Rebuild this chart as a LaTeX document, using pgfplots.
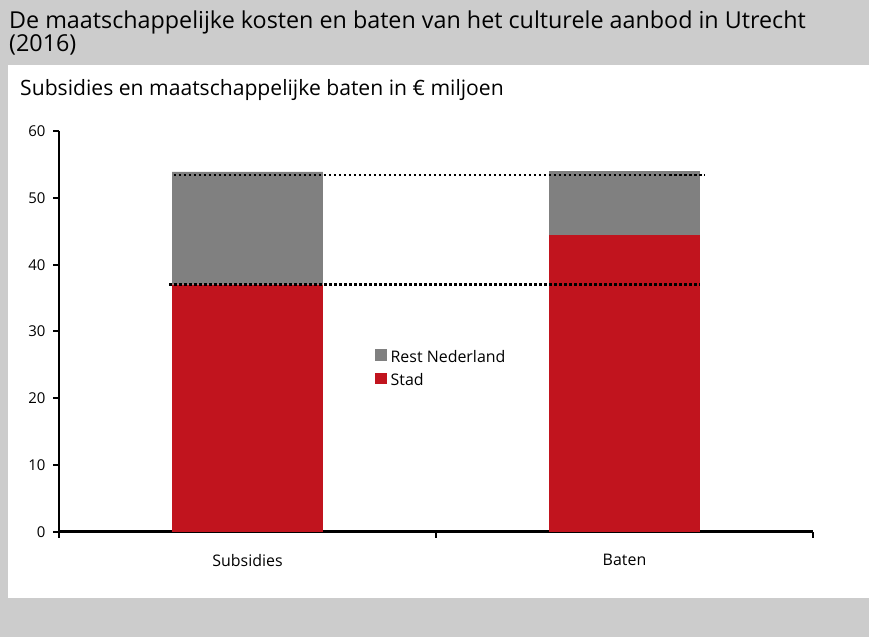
\documentclass[border=0pt]{standalone}
\usepackage{pgfplots}
\pgfplotsset{compat=1.18}
\usepackage{fontspec}
\setmainfont{Open Sans}

\definecolor{stad}{HTML}{C1141E}
\definecolor{rest}{HTML}{808080}
\definecolor{band}{HTML}{CCCCCC}

% Stad / Rest Nederland, in euro miljoen
\pgfplotstableread{
x stad rest
0 37.0 16.9
1 44.4 9.6
}\bardata

\begin{document}
\begin{tikzpicture}[x=1bp,y=1bp]
\useasboundingbox (0,0) rectangle (869,637);
\fill[band] (0,0) rectangle (869,637);
\fill[white] (8,39) rectangle (869,572);
\node[anchor=base west, inner sep=0, font=\fontsize{23.4}{27}\selectfont] at (9,608)
  {De maatschappelijke kosten en baten van het culturele aanbod in Utrecht};
\node[anchor=base west, inner sep=0, font=\fontsize{23.4}{27}\selectfont] at (9,585) {(2016)};
\node[anchor=base west, inner sep=0, font=\fontsize{21.2}{24}\selectfont] at (20,541)
  {Subsidies en maatschappelijke baten in € miljoen};

\begin{axis}[
  at={(59bp,105bp)}, anchor=south west,
  scale only axis, width=754bp, height=401bp,
  xmin=-0.5, xmax=1.5, ymin=0, ymax=60,
  ybar stacked, bar width=0.4,
  axis x line*=bottom, axis y line*=left,
  axis line style={black, line width=2.5bp},
  x axis line style={line width=3bp},
  tick align=outside, major tick length=6bp,
  tick style={black, line width=2bp},
  ytick={0,10,...,60},
  xtick={-0.5,0.5,1.5}, xticklabels={},
  extra x ticks={0,1}, extra x tick labels={Subsidies,Baten},
  extra x tick style={major tick length=0pt, tick label style={yshift=-19bp}},
  tick label style={font=\fontsize{15}{17}\selectfont, black},
  x tick label style={font=\fontsize{16}{18}\selectfont},
  yticklabel style={xshift=-4bp},
  /pgf/number format/assume math mode=true,
  reverse legend,
  legend cell align=left,
  legend image code/.code={\fill[#1] (0bp,-4bp) rectangle (11.5bp,7.5bp);},
  legend style={at={(0.419,0.456)}, anchor=north west, draw=none, fill=none,
    font=\fontsize{16}{18}\selectfont, row sep=9bp, inner sep=0pt,
    nodes={inner xsep=4bp, inner ysep=0pt}},
]
\addplot[fill=stad, draw=none] table[x=x, y=stad] {\bardata};
\addlegendentry{Stad}
\addplot[fill=rest, draw=none] table[x=x, y=rest] {\bardata};
\addlegendentry{Rest Nederland}
\end{axis}

\begin{axis}[
  at={(59bp,105bp)}, anchor=south west,
  scale only axis, width=754bp, height=401bp,
  xmin=-0.5, xmax=1.5, ymin=0, ymax=60, hide axis,
]
\addplot[black, line width=2.5bp, dash pattern=on 2.5bp off 2.5bp] coordinates {(-0.195,53.4) (1.214,53.4)};
\addplot[black, line width=2.5bp, dash pattern=on 2.5bp off 2.5bp] coordinates {(-0.208,37.05) (1.200,37.05)};
\end{axis}
\end{tikzpicture}
\end{document}
